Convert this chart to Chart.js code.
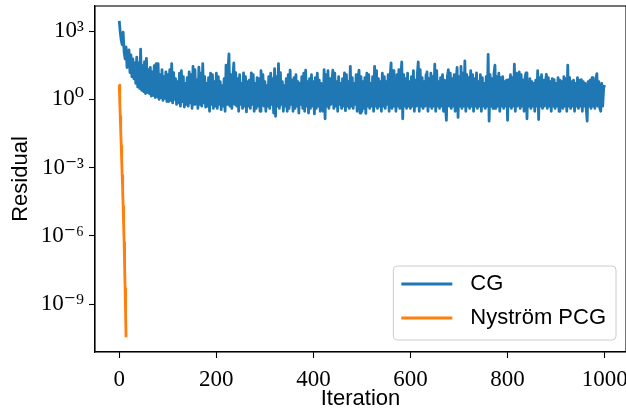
<!DOCTYPE html>
<html lang="en">
<head>
  <meta charset="UTF-8">
  <title>Residual: CG vs Nyström PCG</title>
  <script src="https://cdn.jsdelivr.net/npm/chart.js"></script>
  <style>
    body {
      margin: 0;
      background-color: #fff;
    }

    #residual-chart {
      display: block;
    }
  </style>
</head>
<body>
  <canvas id="residual-chart" width="626" height="408"></canvas>

  <script>
    // CG residual, read every 2 iterations (one row = 20 iterations)
    const cgStep = 2;
    const cgResidual = [
      2800, 900, 400, 250, 900, 120, 60, 200, 25, 120,
      150, 15, 90, 10, 60, 8, 40, 5, 72, 3.5,
      40, 3.0, 160, 2.5, 30, 2.2, 45, 1.8, 63, 2.0,
      20, 1.8, 25, 1.4, 16, 1.5, 30, 1.2, 37, 1.3,
      37, 1.0, 12, 1.2, 20, 0.9, 10, 1.1, 16, 0.8,
      12, 0.8, 20, 0.9, 37, 0.7, 15, 1.0, 8, 0.6,
      6, 0.7, 14, 0.5, 18, 0.8, 10, 0.46, 5, 0.6,
      9, 0.5, 16, 0.7, 12, 0.4, 28, 0.6, 20, 0.8,
      7, 0.4, 26, 0.6, 14, 0.5, 37, 0.7, 10, 0.45,
      5, 0.5, 9, 0.3, 14, 0.6, 12, 0.4, 6, 0.5,
      14, 0.4, 10, 0.6, 6, 0.35, 4, 0.5, 8, 0.3,
      32, 0.6, 18, 100, 0.5, 12, 0.4, 9, 40, 0.6,
      15, 0.5, 8, 0.3, 12, 0.6, 5, 0.4, 14.5, 0.5,
      10, 0.28, 6, 0.5, 7, 0.4, 14.5, 0.6, 12, 0.3,
      5, 0.4, 9, 0.5, 8, 0.3, 18, 0.6, 12, 0.5,
      6, 0.3, 4, 0.5, 10, 0.4, 14, 0.6, 8, 0.25,
      22, 0.18, 10, 0.5, 37, 0.4, 15, 0.6, 6, 0.3,
      4, 0.5, 8, 0.3, 12, 0.4, 19, 0.6, 7, 0.3,
      9, 0.4, 12, 0.5, 6, 0.25, 5, 0.6, 10, 0.4,
      14, 0.3, 19, 0.5, 6, 0.25, 8, 0.4, 12, 0.5,
      6, 0.23, 9, 0.4, 14, 0.5, 7, 0.3, 5, 0.6,
      0.3, 20, 0.14, 12, 0.5, 18, 0.4, 8, 0.6, 6,
      19, 0.4, 14, 0.5, 6, 0.3, 10, 0.6, 5, 0.4,
      8, 0.5, 14.5, 0.32, 12, 0.5, 6, 0.4, 28, 0.5,
      9, 0.4, 5, 0.6, 12, 0.3, 8, 19, 0.25, 10,
      0.3, 6, 0.4, 9, 0.24, 14, 0.5, 12, 0.4, 5,
      0.5, 10, 0.3, 28, 0.5, 18, 0.4, 8, 0.5, 6,
      0.3, 14, 0.5, 10, 0.4, 6, 0.6, 12, 0.3, 9,
      40, 0.4, 18, 0.5, 7, 0.3, 12, 0.5, 20, 0.4,
      9, 44, 0.14, 12, 0.5, 8, 0.4, 14, 0.5, 6,
      0.4, 10, 0.5, 18, 0.3, 7, 0.5, 12, 44, 0.3,
      20, 0.5, 9, 0.4, 6, 0.5, 12, 16, 0.3, 8,
      0.5, 14, 0.4, 10, 0.5, 35, 0.3, 18, 0.5, 6,
      0.4, 9, 0.5, 12, 0.3, 7, 0.5, 0.12, 10, 20,
      0.5, 14, 0.4, 8, 0.5, 12, 0.3, 6, 25, 0.16,
      10, 0.5, 28, 0.4, 14, 0.5, 49, 0.3, 12, 0.5,
      9, 0.4, 18, 0.5, 12, 0.3, 8, 0.5, 14.5, 0.4,
      6, 0.5, 12, 0.3, 9, 0.5, 5, 0.4, 10, 0.5,
      95, 0.11, 12, 0.5, 8, 0.4, 13.5, 32, 0.4, 10,
      0.5, 14, 0.3, 9, 0.5, 10, 0.4, 6, 0.5, 7,
      0.12, 7.4, 0.5, 12, 0.4, 9, 0.5, 35, 0.3, 14,
      0.5, 10, 16, 0.4, 12, 0.5, 7, 0.3, 9, 14.5,
      0.14, 5.8, 0.5, 8, 0.4, 6, 0.5, 5, 0.3, 7,
      0.5, 18, 0.13, 9, 0.5, 12, 0.4, 7, 0.5, 6,
      12.6, 0.4, 9, 0.5, 6, 0.3, 8, 0.5, 7.4, 0.4,
      5, 0.5, 9, 0.3, 7, 0.5, 6, 0.4, 10, 0.5,
      8, 0.3, 32, 0.5, 9, 0.4, 6, 0.5, 6.9, 0.3,
      5, 0.5, 9, 0.4, 7, 0.5, 7.4, 0.3, 6, 0.5,
      5, 0.4, 0.11, 6, 0.5, 7, 0.4, 9, 0.5, 6,
      0.4, 8, 13.5, 0.5, 6, 0.4, 0.3, 5, 0.5, 3.2,
      4.2
    ];

    // Nyström PCG residual, one value per iteration
    const pcgResidual = [
      4.2, 0.8, 0.18, 0.04, 8.9e-3, 2e-3, 4.5e-4, 1e-4,
      2e-5, 3.2e-6, 5e-7, 5e-8, 5e-9, 4e-10, 3.5e-11
    ];

    const xTicks = [0, 200, 400, 600, 800, 1000];
    const yTicks = [1e-9, 1e-6, 1e-3, 1, 1e3];
    const yTickLabels = ['10⁻⁹', '10⁻⁶', '10⁻³', '10⁰', '10³'];

    const serif = '"Liberation Serif", "DejaVu Serif", serif';
    const sans = '"Liberation Sans", Arial, sans-serif';

    const cgPoints = cgResidual.map((v, i) => ({ x: i * cgStep, y: v }));
    const pcgPoints = pcgResidual.map((v, i) => ({ x: i, y: v }));

    // box around the plot and a matplotlib-style legend in the lower right
    const frameAndLegend = {
      id: 'frameAndLegend',
      afterDraw(chart) {
        const ctx = chart.ctx;
        const a = chart.chartArea;
        ctx.save();
        ctx.strokeStyle = '#000';
        ctx.lineWidth = 1.1;
        ctx.strokeRect(a.left, a.top, a.right - a.left, a.bottom - a.top);

        const sets = chart.data.datasets;
        ctx.font = '22px ' + sans;
        const textW = Math.max(...sets.map(d => ctx.measureText(d.label).width));
        const w = 77 + textW + 10;
        const h = 74;
        const x = a.right - 10 - w;
        const y = a.bottom - 12 - h;

        ctx.beginPath();
        ctx.roundRect(x, y, w, h, 4);
        ctx.fillStyle = 'rgba(255,255,255,0.8)';
        ctx.fill();
        ctx.strokeStyle = '#cccccc';
        ctx.lineWidth = 1;
        ctx.stroke();

        sets.forEach((d, i) => {
          const cy = y + 18 + i * 34;
          ctx.strokeStyle = d.borderColor;
          ctx.lineWidth = 2.8;
          ctx.beginPath();
          ctx.moveTo(x + 8, cy);
          ctx.lineTo(x + 59, cy);
          ctx.stroke();
          ctx.fillStyle = '#000';
          ctx.textBaseline = 'middle';
          ctx.fillText(d.label, x + 77, cy);
        });
        ctx.restore();
      }
    };

    Chart.defaults.color = '#000';

    new Chart(document.getElementById('residual-chart'), {
      type: 'line',
      data: {
        datasets: [{
          label: 'CG',
          data: cgPoints,
          borderColor: '#1f77b4',
          borderWidth: 2.8,
          borderJoinStyle: 'round',
          pointRadius: 0,
          fill: false
        }, {
          label: 'Nyström PCG',
          data: pcgPoints,
          borderColor: '#ff7f0e',
          borderWidth: 2.8,
          borderJoinStyle: 'round',
          pointRadius: 0,
          fill: false
        }]
      },
      options: {
        responsive: false,
        animation: false,
        layout: {
          padding: { top: 6, left: 0, right: 0, bottom: 0 }
        },
        plugins: {
          legend: { display: false },
          tooltip: { enabled: false }
        },
        scales: {
          x: {
            type: 'linear',
            min: -50,
            max: 1044,
            afterBuildTicks: axis => {
              axis.ticks = xTicks.map(v => ({ value: v }));
            },
            afterFit: axis => {
              axis.height = 56;
              axis.paddingLeft = 0;
              axis.paddingRight = 0;
            },
            ticks: {
              font: { family: serif, size: 23 },
              padding: 8,
              maxRotation: 0,
              autoSkip: false,
              callback: value => String(value)
            },
            grid: {
              drawOnChartArea: false,
              tickLength: 6,
              tickWidth: 1.1,
              color: '#000'
            },
            border: { color: '#000', width: 1.1 },
            title: {
              display: true,
              text: 'Iteration',
              font: { family: sans, size: 22, lineHeight: 1 },
              padding: { top: 0, bottom: -2 }
            }
          },
          y: {
            type: 'logarithmic',
            min: Math.pow(10, -11.1),
            max: Math.pow(10, 4.1),
            afterBuildTicks: axis => {
              axis.ticks = yTicks.map(v => ({ value: v }));
            },
            afterFit: axis => {
              axis.width = 95;
              axis.paddingTop = 0;
              axis.paddingBottom = 0;
            },
            ticks: {
              font: { family: serif, size: 23 },
              padding: 5,
              autoSkip: false,
              callback: (value, index) => yTickLabels[index]
            },
            grid: {
              drawOnChartArea: false,
              tickLength: 6,
              tickWidth: 1.1,
              color: '#000'
            },
            border: { color: '#000', width: 1.1 },
            title: {
              display: true,
              text: 'Residual',
              font: { family: sans, size: 22 },
              padding: { top: 8, bottom: 0 }
            }
          }
        }
      },
      plugins: [frameAndLegend]
    });
  </script>
</body>
</html>
